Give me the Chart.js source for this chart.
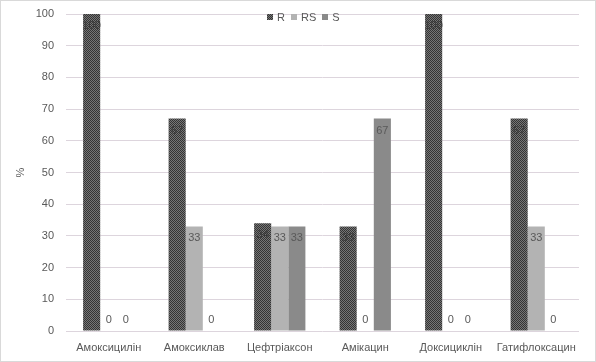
<!DOCTYPE html>
<html>
<head>
<meta charset="utf-8">
<script src="https://cdn.jsdelivr.net/npm/chart.js@4"></script>
<style>
  html, body { margin: 0; padding: 0; background: #fff; }
  #wrap { position: relative; width: 596px; height: 362px; box-sizing: border-box; border: 1px solid #d9d9d9; }
  canvas { position: absolute; left: -1px; top: -1px; }
  #legend { position: absolute; top: 10px; left: 266px; font: 11px "Liberation Sans", Arial, sans-serif; color: #595959; display: flex; align-items: center; }
  #legend span.item { display: flex; align-items: center; margin-right: 6px; }
  #legend i { display: inline-block; width: 6px; height: 6px; margin-right: 4px; }
</style>
</head>
<body>
<div id="wrap">
  <canvas id="grafico" width="596" height="362"></canvas>
  <div id="legend"></div>
</div>
<script>
const categorias = ['Амоксицилін', 'Амоксиклав', 'Цефтріаксон', 'Амікацин', 'Доксициклін', 'Гатифлоксацин'];
const valoresR  = [100, 67, 34, 33, 100, 67];
const valoresRS = [0, 33, 33, 0, 0, 33];
const valoresS  = [0, 0, 33, 67, 0, 0];
const nombres = ['R', 'RS', 'S'];

// patrón de cuadritos para la serie R
function patron() {
  const c = document.createElement('canvas');
  c.width = 2; c.height = 2;
  const x = c.getContext('2d');
  x.fillStyle = '#767676'; x.fillRect(0, 0, 2, 2);
  x.fillStyle = '#343434'; x.fillRect(0, 0, 1, 1); x.fillRect(1, 1, 1, 1);
  return x.createPattern(c, 'repeat');
}

const ctx = document.getElementById('grafico').getContext('2d');
const colores = [patron(), '#b3b3b3', '#8a8a8a'];
const coloresLegend = ['repeating-conic-gradient(#343434 0 25%, #767676 0 50%) 0 0/2px 2px', '#b3b3b3', '#8a8a8a'];

const legend = document.getElementById('legend');
nombres.forEach((n, i) => {
  const s = document.createElement('span');
  s.className = 'item';
  s.innerHTML = `<i style="background:${coloresLegend[i]}"></i>${n}`;
  legend.appendChild(s);
});

const etiquetas = {
  id: 'etiquetas',
  afterDatasetsDraw(chart) {
    const c = chart.ctx;
    const base = chart.scales.y.getPixelForValue(0);
    c.save();
    c.font = '11px "Liberation Sans", Arial, sans-serif';
    c.textAlign = 'center';
    c.textBaseline = 'middle';
    chart.data.datasets.forEach((ds, i) => {
      chart.getDatasetMeta(i).data.forEach((bar, j) => {
        const v = ds.data[j];
        c.fillStyle = (i === 0 && v > 0) ? '#3a3a3a' : '#595959';
        const y = Math.min(bar.y + 12, base - 11);
        c.fillText(String(v), bar.x, y);
      });
    });
    c.restore();
  }
};

new Chart(ctx, {
  type: 'bar',
  data: {
    labels: categorias,
    datasets: [
      { label: nombres[0], data: valoresR, backgroundColor: colores[0] },
      { label: nombres[1], data: valoresRS, backgroundColor: colores[1] },
      { label: nombres[2], data: valoresS, backgroundColor: colores[2] }
    ]
  },
  options: {
    responsive: false,
    animation: false,
    layout: { padding: { top: 14, right: 17, left: 0, bottom: 0 } },
    datasets: { bar: { barPercentage: 1, categoryPercentage: 0.6 } },
    plugins: { legend: { display: false }, tooltip: { enabled: false } },
    scales: {
      x: {
        grid: { display: false },
        border: { display: false },
        ticks: { color: '#595959', font: { family: 'Liberation Sans', size: 11 }, padding: 2, maxRotation: 0 },
        afterFit: s => { s.height = 31; s.paddingLeft = 0; s.paddingRight = 0; }
      },
      y: {
        min: 0, max: 100,
        ticks: { stepSize: 10, color: '#595959', font: { family: 'Liberation Sans', size: 11 }, padding: 12 },
        grid: { color: '#ddd5dd', drawTicks: false },
        border: { display: false },
        title: { display: true, text: '%', color: '#595959', font: { family: 'Liberation Sans', size: 11 }, padding: { top: 14, bottom: 0 } },
        afterFit: s => { s.width = 66; s.paddingTop = 0; s.paddingBottom = 0; }
      }
    }
  },
  plugins: [etiquetas]
});
</script>
</body>
</html>
